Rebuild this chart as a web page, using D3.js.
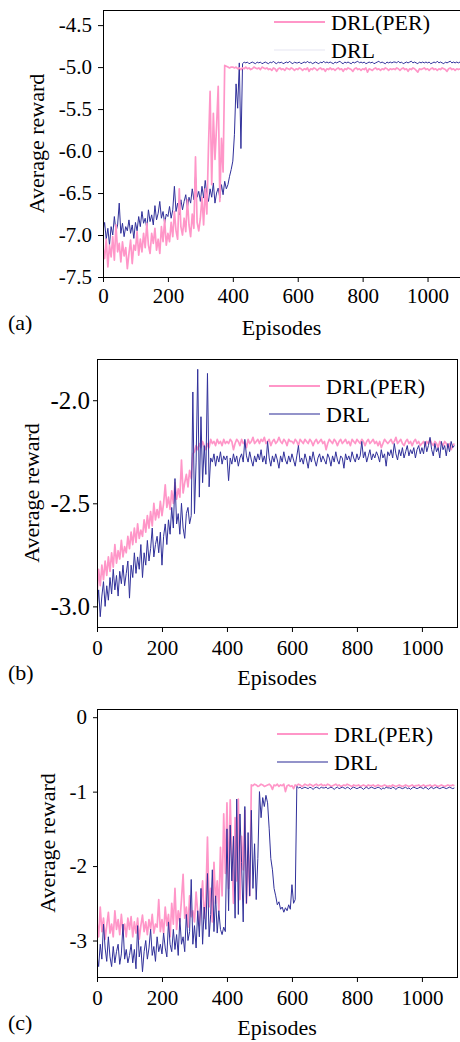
<!DOCTYPE html>
<html>
<head>
<meta charset="utf-8">
<script src="https://cdn.jsdelivr.net/npm/d3@7"></script>
<style>
  body { margin: 0; background: #fff; }
  text { font-family: "Liberation Serif", "Times New Roman", serif; fill: #000; }
</style>
</head>
<body>
<script>
//---- DATA (one value every 5 episodes, 0..1100)
const episodes = d3.range(0, 1101, 5);
const seriesNames = ["DRL(PER)", "DRL"];
const xTicks = [0, 200, 400, 600, 800, 1000];
const yTicksA = [-7.5, -7.0, -6.5, -6.0, -5.5, -5.0, -4.5];
const yTicksB = [-3.0, -2.5, -2.0];
const yTicksC = [-3, -2, -1, 0];

// panel (a)
const perA = [
  -7.15, -7.28, -7.05, -7.38, -7.12, -7.26, -7.02, -7.30, -6.88, -7.20, -7.10, -7.32, -7.08, -7.25, -7.15, -7.40, -7.22, -7.06, -7.34, -7.12,
  -7.18, -6.96, -7.24, -7.05, -7.20, -6.98, -7.15, -6.86, -7.12, -7.22, -6.98, -7.10, -6.92, -7.18, -7.05, -7.22, -6.90, -7.08, -6.82, -7.12,
  -6.98, -7.08, -6.85, -7.02, -6.72, -6.95, -7.05, -6.45, -6.90, -7.00, -6.80, -6.96, -6.58, -6.88, -7.02, -6.75, -6.92, -6.07, -6.85, -6.95,
  -6.80, -6.55, -6.88, -6.45, -6.75, -5.95, -5.29, -6.40, -5.55, -6.10, -5.70, -5.23, -6.60, -5.85, -6.25, -4.98, -4.99, -5.00, -5.01, -5.00,
  -5.00, -5.01, -5.00, -5.02, -5.01, -5.03, -5.01, -5.02, -5.00, -5.02, -5.01, -5.03, -5.02, -5.00, -5.01, -5.02, -5.01, -5.03, -5.00, -5.01,
  -5.02, -5.01, -5.03, -5.02, -5.04, -5.01, -5.02, -5.05, -5.02, -5.01, -5.03, -5.02, -5.04, -5.01, -5.02, -5.03, -5.01, -5.02, -5.04, -5.02,
  -5.03, -5.01, -5.02, -5.04, -5.02, -5.03, -5.01, -5.05, -5.02, -5.03, -5.01, -5.02, -5.04, -5.02, -5.01, -5.03, -5.02, -5.05, -5.02, -5.03,
  -5.01, -5.03, -5.02, -5.04, -5.02, -5.01, -5.03, -5.02, -5.05, -5.02, -5.03, -5.01, -5.02, -5.03, -5.05, -5.02, -5.01, -5.03, -5.02, -5.04,
  -5.02, -5.03, -5.01, -5.06, -5.02, -5.03, -5.04, -5.02, -5.01, -5.03, -5.02, -5.04, -5.02, -5.03, -5.01, -5.02, -5.04, -5.02, -5.03, -5.02,
  -5.03, -5.01, -5.02, -5.04, -5.02, -5.01, -5.03, -5.02, -5.05, -5.02, -5.03, -5.01, -5.02, -5.04, -5.06, -5.02, -5.03, -5.02, -5.01, -5.03,
  -5.02, -5.04, -5.02, -5.01, -5.03, -5.02, -5.04, -5.02, -5.03, -5.01, -5.02, -5.03, -5.05, -5.02, -5.01, -5.03, -5.02, -5.04, -5.02, -5.03, -5.02
];
const drlA = [
  -6.95, -6.85, -7.05, -6.92, -7.12, -6.90, -7.00, -6.78, -6.96, -6.88, -6.62, -6.98, -6.86, -7.02, -6.90, -6.95, -6.82, -6.98, -6.88, -7.04,
  -6.85, -6.95, -6.78, -6.90, -6.72, -6.86, -6.80, -6.92, -6.70, -6.84, -6.76, -6.88, -6.65, -6.82, -6.74, -6.60, -6.80, -6.72, -6.86, -6.75,
  -6.78, -6.66, -6.80, -6.70, -6.42, -6.72, -6.62, -6.76, -6.58, -6.70, -6.60, -6.52, -6.68, -6.55, -6.62, -6.45, -6.58, -6.30, -6.55, -6.48,
  -6.60, -6.42, -6.56, -6.35, -6.52, -6.60, -6.45, -6.55, -6.38, -6.62, -6.50, -6.44, -6.56, -6.40, -6.52, -6.36, -6.45, -6.40, -6.30, -6.22,
  -6.12, -5.80, -5.20, -5.49, -4.95, -5.97, -4.96, -4.94, -4.95, -4.94, -4.96, -4.95, -4.94, -4.95, -4.96, -4.94, -4.95, -4.94, -4.96, -4.95,
  -4.94, -4.95, -4.96, -4.94, -4.95, -4.93, -4.95, -4.96, -4.94, -4.95, -4.94, -4.96, -4.95, -4.94, -4.95, -4.93, -4.95, -4.96, -4.94, -4.95,
  -4.95, -4.94, -4.96, -4.95, -4.94, -4.95, -4.93, -4.95, -4.94, -4.96, -4.95, -4.94, -4.95, -4.96, -4.94, -4.95, -4.93, -4.95, -4.94, -4.95,
  -4.94, -4.95, -4.96, -4.94, -4.95, -4.94, -4.93, -4.95, -4.96, -4.94, -4.95, -4.94, -4.95, -4.96, -4.94, -4.95, -4.94, -4.93, -4.95, -4.94,
  -4.95, -4.94, -4.96, -4.95, -4.94, -4.95, -4.94, -4.96, -4.95, -4.94, -4.93, -4.95, -4.94, -4.95, -4.96, -4.94, -4.95, -4.94, -4.95, -4.94,
  -4.94, -4.95, -4.93, -4.95, -4.94, -4.96, -4.95, -4.94, -4.95, -4.94, -4.93, -4.95, -4.94, -4.95, -4.96, -4.94, -4.95, -4.94, -4.95, -4.94,
  -4.95, -4.94, -4.96, -4.95, -4.94, -4.95, -4.93, -4.95, -4.94, -4.95, -4.96, -4.94, -4.95, -4.94, -4.93, -4.95, -4.94, -4.95, -4.94, -4.95, -4.94
];

// panel (b)
const perB = [
  -2.95, -2.82, -2.90, -2.80, -2.87, -2.78, -2.85, -2.76, -2.83, -2.74, -2.81, -2.70, -2.79, -2.73, -2.77, -2.68, -2.76, -2.71, -2.74, -2.66,
  -2.72, -2.64, -2.70, -2.62, -2.69, -2.60, -2.67, -2.63, -2.66, -2.58, -2.64, -2.56, -2.62, -2.54, -2.61, -2.50, -2.58, -2.53, -2.57, -2.49,
  -2.56, -2.50, -2.41, -2.52, -2.47, -2.53, -2.44, -2.50, -2.40, -2.48, -2.43, -2.47, -2.29, -2.45, -2.40, -2.36, -2.42, -2.34, -2.38, -2.26,
  -2.25, -2.22, -2.24, -2.21, -2.23, -2.20, -2.22, -2.24, -2.21, -2.23, -2.19, -2.21, -2.20, -2.22, -2.19, -2.21, -2.20, -2.22, -2.19, -2.21,
  -2.20, -2.21, -2.19, -2.20, -2.24, -2.21, -2.19, -2.20, -2.22, -2.19, -2.21, -2.20, -2.23, -2.19, -2.21, -2.20, -2.18, -2.21, -2.20, -2.19,
  -2.21, -2.19, -2.20, -2.18, -2.21, -2.20, -2.19, -2.22, -2.20, -2.19, -2.21, -2.20, -2.18, -2.20, -2.21, -2.19, -2.20, -2.22, -2.19, -2.20,
  -2.20, -2.21, -2.19, -2.20, -2.22, -2.19, -2.20, -2.21, -2.19, -2.20, -2.21, -2.19, -2.20, -2.22, -2.20, -2.19, -2.21, -2.20, -2.19, -2.21,
  -2.20, -2.24, -2.21, -2.19, -2.20, -2.21, -2.19, -2.20, -2.22, -2.20, -2.19, -2.21, -2.20, -2.19, -2.21, -2.20, -2.22, -2.19, -2.20, -2.21,
  -2.19, -2.20, -2.21, -2.19, -2.20, -2.22, -2.20, -2.19, -2.21, -2.20, -2.19, -2.21, -2.20, -2.22, -2.20, -2.23, -2.21, -2.19, -2.20, -2.21,
  -2.20, -2.19, -2.21, -2.20, -2.18, -2.21, -2.20, -2.19, -2.21, -2.22, -2.20, -2.19, -2.21, -2.20, -2.22, -2.20, -2.19, -2.21, -2.20, -2.22,
  -2.21, -2.20, -2.22, -2.20, -2.21, -2.19, -2.21, -2.22, -2.20, -2.21, -2.23, -2.20, -2.21, -2.22, -2.20, -2.21, -2.23, -2.21, -2.24, -2.22, -2.21
];
const drlB = [
  -3.02, -2.92, -3.05, -2.95, -2.88, -3.00, -2.90, -2.97, -2.86, -2.94, -2.82, -2.92, -2.85, -2.95, -2.83, -2.89, -2.80, -2.90, -2.84, -2.78,
  -2.96, -2.80, -2.86, -2.74, -2.84, -2.76, -2.82, -2.70, -2.86, -2.74, -2.80, -2.68, -2.78, -2.72, -2.62, -2.76, -2.70, -2.66, -2.74, -2.64,
  -2.80, -2.66, -2.60, -2.70, -2.58, -2.65, -2.52, -2.62, -2.38, -2.60, -2.55, -2.65, -2.50, -2.62, -2.67, -2.55, -2.52, -2.60, -2.56, -1.96,
  -2.55, -2.30, -1.85, -2.47, -2.08, -2.40, -2.22, -2.36, -1.87, -2.42, -2.28, -2.30, -2.26, -2.32, -2.27, -2.30, -2.25, -2.31, -2.27, -2.29,
  -2.27, -2.39, -2.28, -2.31, -2.26, -2.30, -2.27, -2.32, -2.28, -2.26, -2.30, -2.19, -2.27, -2.30, -2.25, -2.29, -2.32, -2.27, -2.30, -2.26,
  -2.29, -2.24, -2.30, -2.27, -2.31, -2.20, -2.28, -2.32, -2.27, -2.30, -2.26, -2.29, -2.33, -2.27, -2.30, -2.25, -2.29, -2.31, -2.27, -2.30,
  -2.26, -2.29, -2.32, -2.27, -2.22, -2.30, -2.28, -2.31, -2.26, -2.29, -2.33, -2.27, -2.30, -2.25, -2.29, -2.32, -2.28, -2.26, -2.30, -2.27,
  -2.29, -2.31, -2.26, -2.28, -2.32, -2.27, -2.30, -2.25, -2.29, -2.31, -2.27, -2.28, -2.33, -2.26, -2.29, -2.27, -2.30, -2.25, -2.28, -2.30,
  -2.26, -2.29, -2.27, -2.20, -2.28, -2.25, -2.30, -2.27, -2.24, -2.29, -2.26, -2.28, -2.25, -2.27, -2.30, -2.24, -2.28, -2.26, -2.32, -2.25,
  -2.27, -2.24, -2.28, -2.21, -2.26, -2.29, -2.24, -2.27, -2.23, -2.28, -2.25, -2.22, -2.27, -2.24, -2.26, -2.23, -2.28, -2.24, -2.22, -2.26,
  -2.23, -2.26, -2.20, -2.25, -2.22, -2.18, -2.24, -2.27, -2.21, -2.25, -2.23, -2.28, -2.20, -2.24, -2.22, -2.27, -2.21, -2.25, -2.20, -2.23, -2.22
];

// panel (c)
const perC = [
  -2.75, -2.95, -2.55, -2.88, -2.70, -2.98, -2.80, -2.62, -2.90, -2.78, -2.95, -2.60, -2.85, -2.72, -2.92, -2.65, -2.88, -2.78, -2.95, -2.70,
  -2.85, -2.68, -2.95, -2.75, -2.90, -2.70, -2.98, -2.80, -2.66, -2.88, -2.75, -2.92, -2.72, -2.85, -2.65, -2.90, -2.78, -2.82, -2.45, -2.88,
  -2.72, -2.90, -2.55, -2.80, -2.65, -2.95, -2.50, -2.78, -2.30, -2.85, -2.60, -2.75, -2.45, -2.11, -2.70, -2.55, -2.82, -2.40, -2.68, -2.60,
  -2.75, -2.35, -2.62, -2.80, -2.50, -2.20, -2.70, -2.45, -1.61, -2.55, -2.30, -2.75, -1.95, -2.50, -2.20, -2.60, -1.75, -2.40, -1.30, -2.10,
  -1.15, -2.30, -1.11, -1.90, -2.50, -1.35, -2.20, -1.10, -2.45, -1.60, -2.05, -1.25, -2.50, -1.80, -2.40, -0.91, -0.92, -0.90, -0.91, -0.93,
  -0.92, -0.90, -0.91, -0.93, -0.92, -0.91, -0.90, -0.92, -0.97, -0.91, -0.92, -0.90, -0.93, -0.91, -0.92, -0.90, -1.00, -0.92, -0.91, -0.93,
  -0.92, -0.96, -0.91, -0.92, -0.90, -0.91, -0.93, -0.92, -0.90, -0.91, -0.92, -0.90, -0.91, -0.93, -0.91, -0.90, -0.92, -0.91, -0.90, -0.92,
  -0.91, -0.92, -0.90, -0.91, -0.93, -0.92, -0.91, -0.90, -0.92, -0.91, -0.93, -0.92, -0.91, -0.92, -0.90, -0.91, -0.92, -0.93, -0.91, -0.92,
  -0.92, -0.91, -0.93, -0.92, -0.91, -0.92, -0.93, -0.91, -0.92, -0.92, -0.91, -0.93, -0.92, -0.91, -0.92, -0.93, -0.92, -0.91, -0.92, -0.93,
  -0.92, -0.93, -0.91, -0.92, -0.93, -0.92, -0.91, -0.92, -0.93, -0.92, -0.91, -0.92, -0.93, -0.92, -0.91, -0.93, -0.92, -0.92, -0.91, -0.93,
  -0.92, -0.91, -0.93, -0.92, -0.92, -0.91, -0.93, -0.92, -0.91, -0.92, -0.93, -0.92, -0.91, -0.92, -0.93, -0.92, -0.91, -0.92, -0.92, -0.91, -0.92
];
const drlC = [
  -3.20, -3.35, -3.05, -3.25, -2.78, -3.10, -3.28, -2.95, -3.22, -3.35, -3.08, -3.30, -3.15, -3.05, -3.32, -3.18, -2.78, -3.25, -3.12, -3.30,
  -3.20, -3.05, -3.30, -3.12, -3.38, -2.80, -3.22, -3.08, -3.42, -3.15, -3.00, -3.25, -3.10, -2.85, -3.20, -3.08, -3.28, -2.95, -3.15, -3.05,
  -3.18, -2.90, -3.10, -3.22, -2.75, -3.05, -3.15, -2.85, -3.12, -2.92, -3.20, -2.70, -3.05, -2.95, -3.15, -2.65, -3.00, -2.88, -2.18, -3.05,
  -2.80, -3.10, -2.60, -2.95, -2.30, -3.05, -2.55, -2.85, -2.10, -2.95, -2.65, -2.05, -2.88, -2.40, -2.90, -2.60, -2.85, -2.92, -2.82, -2.88,
  -1.50, -2.60, -1.45, -2.20, -1.60, -2.70, -1.10, -2.65, -1.30, -1.95, -2.75, -1.20, -2.50, -1.55, -2.40, -1.25, -2.30, -1.70, -2.45, -1.90,
  -1.00, -1.35, -1.08, -1.20, -1.05, -1.15, -1.50, -1.90, -2.05, -2.30, -2.40, -2.52, -2.48, -2.58, -2.55, -2.62, -2.56, -2.60, -2.52, -2.58,
  -2.25, -2.50, -2.45, -0.93, -0.95, -0.94, -0.96, -0.95, -0.94, -0.95, -0.96, -0.94, -0.95, -0.97, -0.95, -0.94, -0.95, -0.96, -0.94, -0.95,
  -0.95, -0.94, -0.96, -0.95, -0.94, -0.95, -0.97, -0.95, -0.94, -0.96, -0.95, -0.94, -0.95, -0.96, -0.94, -0.95, -0.97, -0.95, -0.94, -0.95,
  -0.96, -0.95, -0.94, -0.95, -0.97, -0.95, -0.94, -0.96, -0.95, -0.94, -0.95, -0.96, -0.95, -0.94, -0.95, -0.97, -0.95, -0.96, -0.94, -0.95,
  -0.95, -0.96, -0.94, -0.95, -0.97, -0.95, -0.94, -0.95, -0.96, -0.95, -0.94, -0.96, -0.95, -0.97, -0.95, -0.94, -0.95, -0.96, -0.95, -0.94,
  -0.95, -0.96, -0.94, -0.95, -0.97, -0.95, -0.94, -0.96, -0.95, -0.94, -0.95, -0.96, -0.95, -0.94, -0.95, -0.96, -0.95, -0.94, -0.95, -0.96, -0.95
];

//---- DRAWING parameters (one entry per panel)
const pinkColor = "#ff96c8";
const blueColor = "#30309a";

const panels = [
  { label: "(a)", per: perA, drl: drlA, yTicks: yTicksA, fmt: d => d.toFixed(1), yFont: 21,
    left: 103, top: 10, right: 460, bottom: 277, xMax: 1100, yMin: -7.5, yMax: -4.32,
    yTitleX: 44, xPad: 6, yPad: 6, legX: 274, legY: 22, perOnTop: true, drlLegColor: "#eeeef6" },
  { label: "(b)", per: perB, drl: drlB, yTicks: yTicksB, fmt: d => d.toFixed(1), yFont: 25,
    left: 97, top: 359, right: 457, bottom: 627, xMax: 1108, yMin: -3.1, yMax: -1.8,
    yTitleX: 39, xPad: 8, yPad: 3, legX: 269, legY: 386, perOnTop: false, drlLegColor: "#6f6fb8" },
  { label: "(c)", per: perC, drl: drlC, yTicks: yTicksC, fmt: d => String(d), yFont: 21,
    left: 97, top: 709, right: 457, bottom: 977, xMax: 1108, yMin: -3.49, yMax: 0.11,
    yTitleX: 55, xPad: 8, yPad: 6, legX: 277, legY: 734, perOnTop: false, drlLegColor: "#6f6fb8" }
];

const svg = d3.select("body").append("svg")
  .attr("width", 460)
  .attr("height", 1042);

svg.append("rect").attr("width", 460).attr("height", 1042).attr("fill", "#fff");

panels.forEach((p, k) => drawPanel(p, k));

function drawPanel(p, k) {
  const x = d3.scaleLinear().domain([0, p.xMax]).range([p.left, p.right]);
  const y = d3.scaleLinear().domain([p.yMin, p.yMax]).range([p.bottom, p.top]);

  const g = svg.append("g");

  // clip lines to the plot box
  g.append("clipPath").attr("id", "clip" + k)
    .append("rect")
      .attr("x", p.left).attr("y", p.top)
      .attr("width", p.right - p.left).attr("height", p.bottom - p.top);

  const line = d3.line()
    .x((d, i) => x(episodes[i]))
    .y(d => y(d));

  const series = [
    { values: p.per, color: pinkColor, width: 1.7 },
    { values: p.drl, color: blueColor, width: 1.0 }
  ];
  if (p.perOnTop) series.reverse();

  g.selectAll("path.series")
      .data(series)
      .enter()
    .append("path")
      .attr("class", "series")
      .attr("clip-path", `url(#clip${k})`)
      .attr("fill", "none")
      .attr("stroke", d => d.color)
      .attr("stroke-width", d => d.width)
      .attr("stroke-linejoin", "round")
      .attr("d", d => line(d.values));

  // frame
  g.append("rect")
    .attr("x", p.left + 0.5).attr("y", p.top + 0.5)
    .attr("width", p.right - p.left).attr("height", p.bottom - p.top)
    .attr("fill", "none").attr("stroke", "#000").attr("stroke-width", 1);

  // axes
  const xAxis = g.append("g")
    .attr("transform", `translate(0,${p.bottom})`)
    .call(d3.axisBottom(x).tickValues(xTicks).tickFormat(d3.format("d"))
      .tickSize(5).tickPadding(p.xPad).tickSizeOuter(0));
  const yAxis = g.append("g")
    .attr("transform", `translate(${p.left},0)`)
    .call(d3.axisLeft(y).tickValues(p.yTicks).tickFormat(p.fmt)
      .tickSize(p.left === 103 ? 5 : 4).tickPadding(p.yPad).tickSizeOuter(0));

  xAxis.attr("font-size", 21);
  yAxis.attr("font-size", p.yFont);
  [xAxis, yAxis].forEach(a => {
    a.attr("font-family", "Liberation Serif");
    a.select(".domain").remove();
    a.selectAll("line").attr("stroke", "#000");
  });

  // titles
  g.append("text")
    .attr("x", (p.left + p.right) / 2)
    .attr("y", p.bottom + 58)
    .attr("text-anchor", "middle")
    .attr("font-size", 22)
    .text("Episodes");

  g.append("text")
    .attr("transform", `translate(${p.yTitleX},${(p.top + p.bottom) / 2}) rotate(-90)`)
    .attr("text-anchor", "middle")
    .attr("font-size", 22)
    .text("Average reward");

  g.append("text")
    .attr("x", 8)
    .attr("y", p.bottom + 53)
    .attr("font-size", 22)
    .text(p.label);

  // legend
  const legColors = [pinkColor, p.drlLegColor];
  const legWidths = [2, 1.5];
  seriesNames.forEach((name, i) => {
    const ly = p.legY + i * 28;
    g.append("line")
      .attr("x1", p.legX).attr("x2", p.legX + 51)
      .attr("y1", ly).attr("y2", ly)
      .attr("stroke", legColors[i]).attr("stroke-width", legWidths[i]);
    g.append("text")
      .attr("x", p.legX + 57)
      .attr("y", ly + 8)
      .attr("font-size", 22)
      .text(name);
  });
}
</script>
</body>
</html>
